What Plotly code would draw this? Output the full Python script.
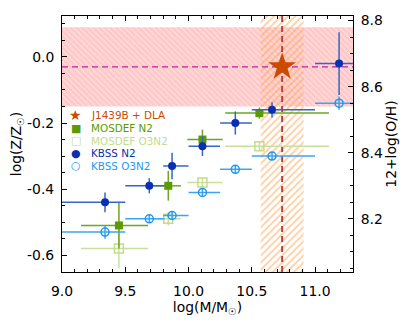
import plotly.graph_objects as go

# ---------------- data ----------------
Z_SUN = 8.69  # 12+log(O/H) of the Sun

# J1439B + DLA
dla_mass = 10.74
dla_mass_err = 0.17
dla_Z = -0.03
dla_Z_err = 0.12

# KBSS N2
kbss_n2_mass = [9.34, 9.69, 9.87, 10.11, 10.37, 10.66, 11.19]
kbss_n2_mass_lo = [0.40, 0.19, 0.07, 0.11, 0.12, 0.16, 0.19]
kbss_n2_mass_hi = [0.16, 0.12, 0.13, 0.14, 0.13, 0.34, 0.20]
kbss_n2_Z = [-0.44, -0.39, -0.33, -0.27, -0.20, -0.16, -0.02]
kbss_n2_Z_err = [0.03, 0.023, 0.04, 0.03, 0.035, 0.023, 0.095]

# KBSS O3N2
kbss_o3n2_mass = [9.34, 9.69, 9.87, 10.11, 10.37, 10.66, 11.19]
kbss_o3n2_mass_lo = [0.40, 0.19, 0.07, 0.11, 0.12, 0.16, 0.19]
kbss_o3n2_mass_hi = [0.16, 0.12, 0.13, 0.14, 0.13, 0.34, 0.20]
kbss_o3n2_Z = [-0.53, -0.49, -0.48, -0.41, -0.34, -0.30, -0.14]
kbss_o3n2_Z_err = [0.02, 0.012, 0.012, 0.012, 0.012, 0.012, 0.02]

# MOSDEF N2
mosdef_n2_mass = [9.45, 9.84, 10.11, 10.56]
mosdef_n2_mass_lo = [0.30, 0.11, 0.12, 0.27]
mosdef_n2_mass_hi = [0.23, 0.10, 0.16, 0.55]
mosdef_n2_Z = [-0.51, -0.39, -0.25, -0.17]
mosdef_n2_Z_err = [0.07, 0.045, 0.03, 0.017]

# MOSDEF O3N2
mosdef_o3n2_mass = [9.45, 9.84, 10.11, 10.56]
mosdef_o3n2_mass_lo = [0.30, 0.11, 0.12, 0.27]
mosdef_o3n2_mass_hi = [0.23, 0.10, 0.16, 0.55]
mosdef_o3n2_Z = [-0.58, -0.49, -0.38, -0.27]
mosdef_o3n2_Z_err = [0.06, 0.02, 0.015, 0.015]

# axes
x_range = [9.0, 11.3]
y_range = [-0.651, 0.124]
x_tickvals = [9.0, 9.5, 10.0, 10.5, 11.0]
x_ticktext = ["9.0", "9.5", "10.0", "10.5", "11.0"]
y_tickvals = [-0.6, -0.4, -0.2, 0.0]
y_ticktext = ["-0.6", "-0.4", "-0.2", "0.0"]
y2_tickvals = [8.2, 8.4, 8.6, 8.8]
y2_ticktext = ["8.2", "8.4", "8.6", "8.8"]

legend_labels = ["J1439B + DLA", "MOSDEF N2", "MOSDEF O3N2", "KBSS N2", "KBSS O3N2"]
legend_symbols = ["★", "■", "□", "●", "○"]

# ---------------- style ----------------
FONT = "DejaVu Sans"
C_STAR = "#cc4a00"
C_MN2 = "#5b9a00"
C_MO3 = "#c3dc8a"
C_KN2 = "#0a2fb0"
C_KO3 = "#1f97f0"
legend_colors = [C_STAR, C_MN2, C_MO3, C_KN2, C_KO3]

fig = go.Figure()

# pink metallicity band
zlo, zhi = dla_Z - dla_Z_err, dla_Z + dla_Z_err
fig.add_trace(go.Scatter(
    x=[x_range[0], x_range[1], x_range[1], x_range[0], x_range[0]],
    y=[zlo, zlo, zhi, zhi, zlo],
    fill="toself", mode="lines", line=dict(width=0),
    fillcolor="#ffc8c8",
    fillpattern=dict(shape="\\", bgcolor="#ffc8c8", fgcolor="#ffffff",
                     size=4, solidity=0.25),
    hoverinfo="skip", showlegend=False))

# orange mass band
mlo, mhi = dla_mass - dla_mass_err, dla_mass + dla_mass_err
fig.add_trace(go.Scatter(
    x=[mlo, mhi, mhi, mlo, mlo],
    y=[y_range[0], y_range[0], y_range[1], y_range[1], y_range[0]],
    fill="toself", mode="lines", line=dict(width=0),
    fillcolor="rgba(0,0,0,0)",
    fillpattern=dict(shape="/", bgcolor="rgba(255,255,255,0)", fgcolor="#ffa04a",
                     size=5, solidity=0.35),
    hoverinfo="skip", showlegend=False))

# dashed lines
fig.add_trace(go.Scatter(
    x=x_range, y=[dla_Z, dla_Z], mode="lines",
    line=dict(color="#c41e9a", width=1.2, dash="6px,4px"),
    hoverinfo="skip", showlegend=False))
fig.add_trace(go.Scatter(
    x=[dla_mass, dla_mass], y=y_range, mode="lines",
    line=dict(color="#b84040", width=2, dash="6px,4px"),
    hoverinfo="skip", showlegend=False))


def add_series(x, xlo, xhi, y, yerr, color, ecolor, symbol, size, lw):
    fig.add_trace(go.Scatter(
        x=x, y=y, mode="markers",
        marker=dict(symbol=symbol, size=size, color=color,
                    line=dict(color=color, width=lw)),
        error_x=dict(type="data", symmetric=False, array=xhi, arrayminus=xlo,
                     color=ecolor, thickness=1.5, width=0),
        error_y=dict(type="data", array=yerr, color=ecolor, thickness=1.5, width=0),
        showlegend=False))


add_series(mosdef_o3n2_mass, mosdef_o3n2_mass_lo, mosdef_o3n2_mass_hi,
           mosdef_o3n2_Z, mosdef_o3n2_Z_err, C_MO3, "#c8e09c", "square-open", 9, 1.5)
add_series(mosdef_n2_mass, mosdef_n2_mass_lo, mosdef_n2_mass_hi,
           mosdef_n2_Z, mosdef_n2_Z_err, C_MN2, "#6aa820", "square", 8, 0)
add_series(kbss_o3n2_mass, kbss_o3n2_mass_lo, kbss_o3n2_mass_hi,
           kbss_o3n2_Z, kbss_o3n2_Z_err, C_KO3, "#3aa4f2", "circle-open", 8, 1.5)
add_series(kbss_n2_mass, kbss_n2_mass_lo, kbss_n2_mass_hi,
           kbss_n2_Z, kbss_n2_Z_err, C_KN2, "#3565c8", "circle", 8, 0)

# star
fig.add_trace(go.Scatter(
    x=[dla_mass], y=[dla_Z], mode="markers",
    marker=dict(symbol="star", size=21, color=C_STAR, line=dict(width=0)),
    showlegend=False))

# dummy trace to activate right axis
fig.add_trace(go.Scatter(
    x=[dla_mass], y=[dla_Z + Z_SUN], yaxis="y2", mode="markers",
    marker=dict(opacity=0), hoverinfo="skip", showlegend=False))

# legend via annotations
sym_sizes = [14, 11, 11, 11, 11]
rows_y = [0.613, 0.562, 0.513, 0.463, 0.415]
for lab, sym, col, ss, ry in zip(legend_labels, legend_symbols, legend_colors, sym_sizes, rows_y):
    fig.add_annotation(x=0.047, y=ry, xref="paper", yref="paper", text=sym,
                       showarrow=False, xanchor="center", yanchor="middle",
                       font=dict(family=FONT, size=ss, color=col))
    fig.add_annotation(x=0.094, y=ry, xref="paper", yref="paper", text=lab,
                       showarrow=False, xanchor="left", yanchor="middle",
                       font=dict(family=FONT, size=10.4, color=col))

axis_common = dict(
    showline=True, linecolor="black", linewidth=1,
    ticks="inside", ticklen=5, tickwidth=1, tickcolor="black",
    showgrid=False, zeroline=False, automargin=False,
    tickfont=dict(family=FONT, size=13.9, color="black"),
)

# the page body adds an 8px offset; margins compensate so the plot lands
# where the reference has it
fig.update_layout(
    width=415, height=332,
    margin=dict(l=54, r=70, t=8, b=68),
    plot_bgcolor="white", paper_bgcolor="white",
    font=dict(family=FONT, color="black"),
    xaxis=dict(range=x_range, tickvals=x_tickvals, ticktext=x_ticktext,
               mirror="ticks", ticklabelstandoff=6,
               minor=dict(dtick=0.1, tick0=9.0, ticks="inside", ticklen=3,
                          tickcolor="black", showgrid=False),
               title=dict(text="log(M/M<sub>☉</sub>)", standoff=2,
                          font=dict(family=FONT, size=13.9)),
               **axis_common),
    yaxis=dict(range=y_range, tickvals=y_tickvals, ticktext=y_ticktext,
               mirror=True, ticklabelstandoff=4,
               minor=dict(dtick=0.05, tick0=0.0, ticks="inside", ticklen=3,
                          tickcolor="black", showgrid=False),
               title=dict(text="log(Z/Z<sub>☉</sub>)", standoff=6,
                          font=dict(family=FONT, size=13.9)),
               **axis_common),
    yaxis2=dict(range=[y_range[0] + Z_SUN, y_range[1] + Z_SUN], overlaying="y",
                side="right", tickvals=y2_tickvals, ticktext=y2_ticktext,
                ticklabelstandoff=4,
                minor=dict(dtick=0.05, tick0=8.2, ticks="inside", ticklen=3,
                           tickcolor="black", showgrid=False),
                title=dict(text="12+log(O/H)", standoff=2,
                           font=dict(family=FONT, size=13.9)),
                **axis_common),
)

fig.write_html("out.html")
